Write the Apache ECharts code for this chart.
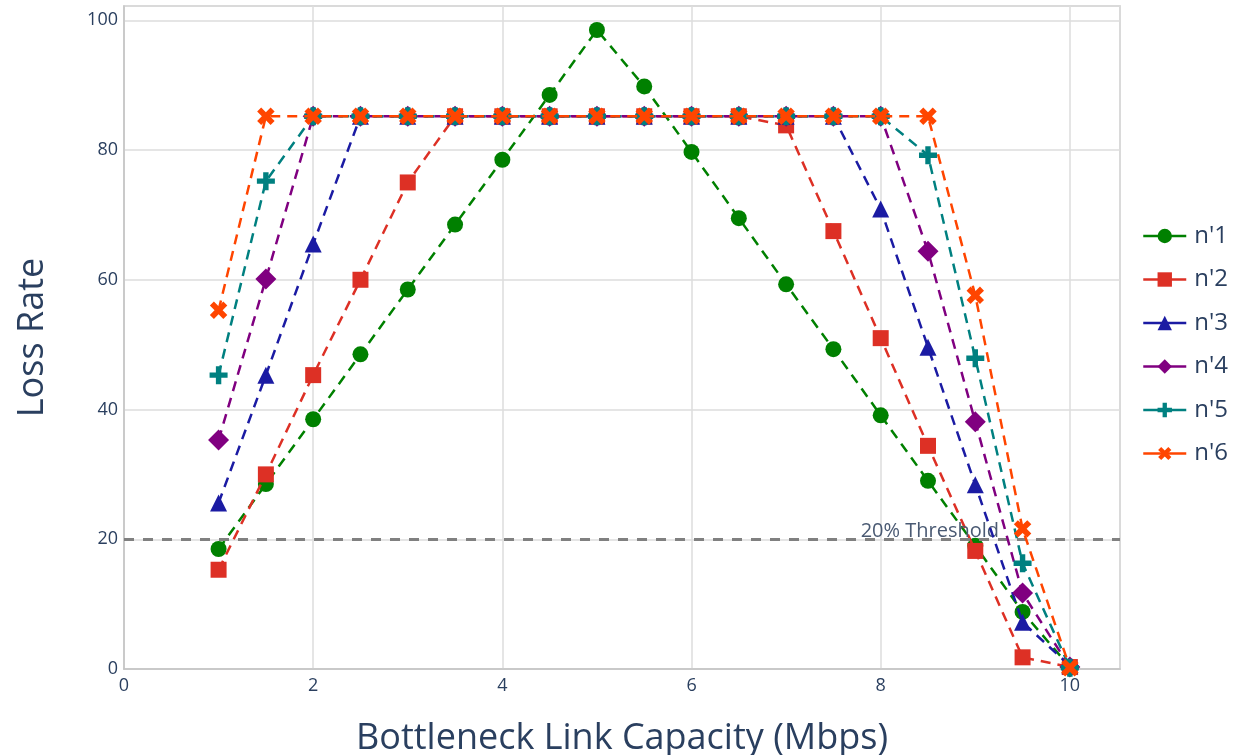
<!DOCTYPE html>
<html>
<head>
<meta charset="utf-8">
<script src="https://cdn.jsdelivr.net/npm/echarts@6/dist/echarts.min.js"></script>
<style>html,body{margin:0;padding:0;background:#fff}#c{width:1240px;height:755px}</style>
</head>
<body>
<div id="c"></div>
<script>
const capacities = [1,1.5,2,2.5,3,3.5,4,4.5,5,5.5,6,6.5,7,7.5,8,8.5,9,9.5,10];
const n1 = [18.5,28.5,38.5,48.5,58.5,68.5,78.5,88.5,98.5,89.8,79.7,69.5,59.3,49.3,39.1,29.0,19.0,8.8,0.3];
const n2 = [15.3,30.0,45.3,60.0,75.0,85.2,85.2,85.2,85.2,85.2,85.2,85.2,83.8,67.5,51.0,34.4,18.2,1.8,0.3];
const n3 = [25.6,45.3,65.5,85.2,85.2,85.2,85.2,85.2,85.2,85.2,85.2,85.2,85.2,85.2,70.9,49.6,28.4,7.2,0.5];
const n4 = [35.3,60.1,85.2,85.2,85.2,85.2,85.2,85.2,85.2,85.2,85.2,85.2,85.2,85.2,85.2,64.4,38.1,11.7,0.3];
const n5 = [45.3,75.2,85.2,85.2,85.2,85.2,85.2,85.2,85.2,85.2,85.2,85.2,85.2,85.2,85.2,79.2,47.9,16.3,0.2];
const n6 = [55.3,85.2,85.2,85.2,85.2,85.2,85.2,85.2,85.2,85.2,85.2,85.2,85.2,85.2,85.2,85.2,57.6,21.6,0.2];
const seriesNames = ["n'1","n'2","n'3","n'4","n'5","n'6"];
const seriesValues = [n1,n2,n3,n4,n5,n6];
const xTicks = [0,2,4,6,8,10];
const yTicks = [0,20,40,60,80,100];
const thresholdValue = 20;
const thresholdLabel = '20% Threshold';

const colors = ['#008000','#dd3025','#1b1ba3','#800080','#008080','#ff4500'];
const plusPath = 'path://M3.5,0h3v3.5h3.5v3h-3.5v3.5h-3v-3.5h-3.5v-3h3.5z';
const symbols = ['circle','rect','triangle','diamond',plusPath,plusPath];
const symSizes = [16,16,17,21,18,19];
const symRot = [0,0,0,0,0,45];
const textColor = '#2a3f5f';
const font = '"Open Sans", "Noto Sans", sans-serif';

const series = seriesNames.map((name,i)=>({
  name: name,
  type: 'line',
  data: capacities.map((x,j)=>[x, seriesValues[i][j]]),
  symbol: symbols[i],
  symbolSize: symSizes[i],
  symbolRotate: symRot[i],
  showAllSymbol: true,
  lineStyle: {color: colors[i], width: 2.5, type: [10,7]},
  itemStyle: {color: colors[i]},
  z: 3 + i,
  animation: false
}));

series.push({
  name: 'threshold',
  type: 'line',
  data: [],
  silent: true,
  z: 2,
  markLine: {
    silent: true,
    symbol: 'none',
    animation: false,
    lineStyle: {color: '#808080', width: 3, type: [10,9]},
    label: {show: false},
    data: [{yAxis: thresholdValue}]
  },
  markPoint: {
    silent: true,
    animation: false,
    symbol: 'circle',
    symbolSize: 0,
    label: {show: true, formatter: thresholdLabel, color: '#4a5a73', fontSize: 20, fontFamily: font, position: 'top', distance: 0, offset: [0, 2]},
    data: [{coord: [8.52, thresholdValue]}]
  }
});

const chart = echarts.init(document.getElementById('c'), null, {renderer: 'canvas'});
chart.setOption({
  backgroundColor: '#fff',
  animation: false,
  textStyle: {fontFamily: font},
  grid: {left: 124, top: 6, right: 120, bottom: 86, outerBoundsMode: 'none', containLabel: false, show: true, borderColor: '#c4c4c4', borderWidth: 1.5, backgroundColor: 'transparent'},
  legend: {
    data: seriesNames,
    orient: 'vertical',
    left: 1137,
    top: 219,
    itemWidth: 43,
    itemHeight: 18,
    itemGap: 19.5,
    textStyle: {fontSize: 24, color: textColor, fontFamily: font, padding: [0,0,0,3]},
    lineStyle: {type: 'solid', width: 2.5},
    selectedMode: false
  },
  xAxis: {
    type: 'value',
    min: 0, max: 10.53, interval: 2,
    name: 'Bottleneck Link Capacity (Mbps)',
    nameLocation: 'middle',
    nameGap: 52,
    nameTextStyle: {fontSize: 36, color: textColor, fontFamily: font},
    axisLine: {show: true, lineStyle: {color: '#c4c4c4', width: 1.5}},
    axisTick: {show: false},
    axisLabel: {color: textColor, fontSize: 18, margin: 8, showMaxLabel: false,
      formatter: v => xTicks.includes(v) ? String(v) : ''},
    splitLine: {show: true, lineStyle: {color: '#dcdcdc', width: 1.5}}
  },
  yAxis: {
    type: 'value',
    min: 0, max: 102.2, interval: 20,
    name: 'Loss Rate',
    nameLocation: 'middle',
    nameGap: 73,
    nameTextStyle: {fontSize: 36, color: textColor, fontFamily: font},
    axisLine: {show: true, lineStyle: {color: '#c4c4c4', width: 1.5}},
    axisTick: {show: false},
    axisLabel: {color: textColor, fontSize: 18, margin: 6, showMaxLabel: false,
      formatter: v => yTicks.includes(v) ? String(v) : ''},
    splitLine: {show: true, lineStyle: {color: '#dcdcdc', width: 1.5}}
  },
  series: series
});
</script>
</body>
</html>
